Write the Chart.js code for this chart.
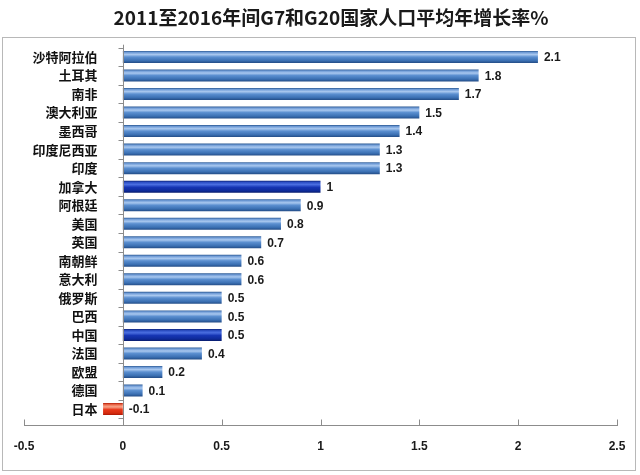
<!DOCTYPE html>
<html><head><meta charset="utf-8">
<script src="https://cdn.jsdelivr.net/npm/chart.js@4/dist/chart.umd.min.js"></script>
<style>html,body{margin:0;padding:0;background:#fff;}</style>
</head><body>
<canvas id="c" width="640" height="475"></canvas>
<script>
const categories = ['沙特阿拉伯','土耳其','南非','澳大利亚','墨西哥','印度尼西亚','印度','加拿大','阿根廷','美国','英国','南朝鲜','意大利','俄罗斯','巴西','中国','法国','欧盟','德国','日本'];
const growthRates = [2.1,1.8,1.7,1.5,1.4,1.3,1.3,1,0.9,0.8,0.7,0.6,0.6,0.5,0.5,0.5,0.4,0.2,0.1,-0.1];
const highlighted = ['加拿大','中国'];
const xTickValues = [-0.5,0,0.5,1,1.5,2,2.5];
const titleText = '2011至2016年间G7和G20国家人口平均年增长率%';

const gradStops = {
  normal: [[0,'#2a5892'],[0.12,'#6f9bd6'],[0.3,'#a9c8ef'],[0.5,'#5b8fd0'],[0.8,'#3b70b3'],[1,'#234c86']],
  strong: [[0,'#0a2278'],[0.15,'#2f52c8'],[0.32,'#4a6ee0'],[0.55,'#1636b4'],[0.85,'#0e2a98'],[1,'#081c6c']],
  negative: [[0,'#b51c06'],[0.15,'#f07050'],[0.32,'#f7a58a'],[0.55,'#e8381a'],[0.85,'#d42a0e'],[1,'#a81604']]
};

function barFill(ctx) {
  if (ctx.type !== 'data') return '#4a7fc1';
  const chart = ctx.chart;
  const ys = chart.scales && chart.scales.y;
  const i = ctx.dataIndex;
  const kind = growthRates[i] < 0 ? 'negative' : (highlighted.includes(categories[i]) ? 'strong' : 'normal');
  if (!ys || !isFinite(ys.getPixelForValue(i))) return gradStops[kind][3][1];
  const yc = ys.getPixelForValue(i);
  const h = ys.height / categories.length * 0.8 * 0.81;
  const g = chart.ctx.createLinearGradient(0, yc - h / 2, 0, yc + h / 2);
  gradStops[kind].forEach(s => g.addColorStop(s[0], s[1]));
  return g;
}

const decor = {
  id: 'decor',
  beforeDraw(chart) {
    const c = chart.ctx;
    c.save();
    c.fillStyle = '#fff';
    c.fillRect(0, 0, chart.width, chart.height);
    c.strokeStyle = '#b8b8b8';
    c.lineWidth = 1;
    c.strokeRect(2.5, 37.5, 633, 433);
    c.fillStyle = '#1a1a1a';
    c.font = 'bold 19px "Noto Sans CJK SC", sans-serif';
    c.textAlign = 'center';
    c.textBaseline = 'middle';
    c.fillText(titleText, 331, 18);
    c.restore();
  },
  afterDatasetsDraw(chart) {
    const c = chart.ctx;
    const xs = chart.scales.x, ys = chart.scales.y;
    const area = chart.chartArea;
    const x0 = Math.round(xs.getPixelForValue(0)) + 0.5;
    const axisY = Math.round(area.bottom + 7) + 0.5;
    c.save();
    c.strokeStyle = '#8c8c8c';
    c.lineWidth = 1;
    c.beginPath();
    c.moveTo(x0, area.top - 3);
    c.lineTo(x0, axisY);
    const step = ys.height / categories.length;
    for (let k = 0; k <= categories.length; k++) {
      const yy = Math.round(area.top + k * step) + 0.5;
      c.moveTo(x0 - 5, yy);
      c.lineTo(x0, yy);
    }
    c.moveTo(Math.round(xs.getPixelForValue(xTickValues[0])), axisY);
    c.lineTo(Math.round(xs.getPixelForValue(xTickValues[xTickValues.length - 1])) + 1, axisY);
    xTickValues.forEach(v => {
      const xx = Math.round(xs.getPixelForValue(v)) + 0.5;
      c.moveTo(xx, axisY);
      c.lineTo(xx, axisY - 6);
    });
    c.stroke();
    c.fillStyle = '#111';
    c.font = '600 13px "Noto Sans CJK SC", sans-serif';
    c.textAlign = 'right';
    c.textBaseline = 'middle';
    categories.forEach((name, i) => {
      c.fillText(name, x0 - 26, ys.getPixelForValue(i));
    });
    c.font = 'bold 12px "Liberation Sans", Arial, sans-serif';
    c.textAlign = 'left';
    c.fillStyle = '#1a1a1a';
    const meta = chart.getDatasetMeta(0);
    meta.data.forEach((el, i) => {
      const xe = Math.max(el.x, el.base);
      c.fillText(String(growthRates[i]), xe + 6, el.y + 1);
    });
    c.restore();
  }
};

new Chart(document.getElementById('c'), {
  type: 'bar',
  data: {
    labels: categories,
    datasets: [{
      data: growthRates,
      backgroundColor: barFill,
      borderWidth: 0,
      categoryPercentage: 0.8,
      barPercentage: 0.81
    }]
  },
  options: {
    indexAxis: 'y',
    responsive: false,
    animation: false,
    devicePixelRatio: 1,
    layout: { padding: { left: 24, right: 23, top: 47.7, bottom: 16.7 } },
    plugins: {
      legend: { display: false },
      tooltip: { enabled: false },
      title: { display: false }
    },
    scales: {
      x: {
        type: 'linear',
        min: xTickValues[0],
        max: xTickValues[xTickValues.length - 1],
        afterBuildTicks: s => { s.ticks = xTickValues.map(v => ({ value: v })); },
        afterFit: s => { s.height = 40; s.paddingLeft = 0; s.paddingRight = 0; },
        grid: { display: false, drawTicks: false },
        border: { display: false },
        ticks: {
          padding: 21,
          color: '#1a1a1a',
          font: { family: '"Liberation Sans", Arial, sans-serif', size: 12, weight: 'bold' },
          callback: v => String(v)
        }
      },
      y: {
        type: 'category',
        offset: true,
        afterFit: s => { s.width = 0; s.paddingTop = 0; s.paddingBottom = 0; },
        grid: { display: false, drawTicks: false },
        border: { display: false },
        ticks: { display: false }
      }
    }
  },
  plugins: [decor]
});
</script>
</body></html>
